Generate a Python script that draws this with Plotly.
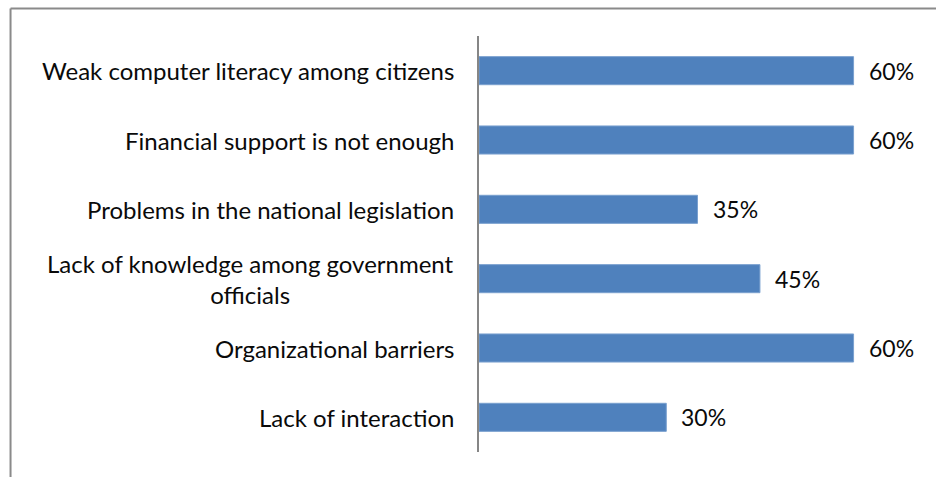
import plotly.graph_objects as go

# Survey results: barriers to e-government development
categories = [
    "Weak computer literacy among citizens",
    "Financial support is not enough",
    "Problems in the national legislation",
    "Lack of knowledge among government<br>officials",
    "Organizational barriers",
    "Lack of interaction",
]
shares = [60, 60, 35, 45, 60, 30]

FONT = "Lato, Calibri, Carlito, sans-serif"
BAR_COLOR = "#4F81BD"

# Plot area geometry (pixels) used for layout placement
W, H = 936, 477
PLOT_L, PLOT_R, PLOT_T, PLOT_B = 479, 916.5, 36, 452
pw, ph = PLOT_R - PLOT_L, PLOT_B - PLOT_T

fig = go.Figure(
    go.Bar(
        x=shares,
        y=categories,
        orientation="h",
        marker=dict(color=BAR_COLOR, line=dict(color="#7aa0cf", width=1)),
        hoverinfo="skip",
    )
)

annotations = []
for cat, val in zip(categories, shares):
    # category label, lines centred on each other
    annotations.append(dict(
        x=0, xref="x", y=cat, yref="y",
        text=cat, showarrow=False,
        xanchor="right", yanchor="middle", align="center",
        xshift=-23, font=dict(family=FONT, size=24, color="#0a0a0a"),
    ))
    # value label just past the bar end
    annotations.append(dict(
        x=val, xref="x", y=cat, yref="y",
        text=f"{val}%", showarrow=False,
        xanchor="left", yanchor="middle",
        xshift=13, font=dict(family=FONT, size=23, color="#0a0a0a"),
    ))

# Outer frame: only the top and left edges fall inside the page
fx0 = (10 - PLOT_L) / pw
fy1 = (PLOT_B - 8.5) / ph
shapes = [
    dict(type="line", xref="paper", yref="paper",
         x0=fx0, x1=(W + 20 - PLOT_L) / pw, y0=fy1, y1=fy1,
         line=dict(color="#8a8a8a", width=2)),
    dict(type="line", xref="paper", yref="paper",
         x0=fx0, x1=fx0, y0=fy1, y1=(PLOT_B - H - 20) / ph,
         line=dict(color="#8a8a8a", width=2)),
]

fig.update_layout(
    width=W, height=H,
    margin=dict(l=PLOT_L, r=W - PLOT_R, t=PLOT_T, b=H - PLOT_B, pad=0),
    paper_bgcolor="white", plot_bgcolor="white",
    showlegend=False,
    bargap=0.595,
    annotations=annotations,
    shapes=shapes,
    xaxis=dict(range=[0, 70], showgrid=False, zeroline=False,
               showticklabels=False, ticks="", showline=False, fixedrange=True),
    yaxis=dict(autorange="reversed", showgrid=False, zeroline=False,
               showticklabels=False, ticks="",
               showline=True, linecolor="#868686", linewidth=2,
               fixedrange=True),
)

fig.write_html("out.html", config={"displayModeBar": False})
